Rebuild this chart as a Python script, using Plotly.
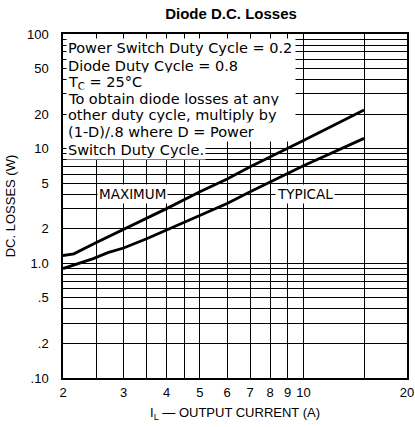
import math
import plotly.graph_objects as go

# ---- data ----
current_max = [2, 2.15, 2.5, 3, 3.5, 4, 5, 6, 7, 8, 9, 10, 15]
loss_max = [1.17, 1.21, 1.52, 1.97, 2.45, 3.0, 4.2, 5.45, 6.95, 8.45, 10.1, 11.8, 21.7]

current_typ = [2, 2.45, 2.7, 3, 3.5, 4, 5, 6, 7, 8, 9, 10, 15]
loss_typ = [0.9, 1.1, 1.24, 1.36, 1.64, 1.95, 2.6, 3.32, 4.2, 5.1, 6.1, 7.1, 12.3]

x_tickvals = [2, 3, 4, 5, 6, 7, 8, 9, 10, 20]
x_ticktext = ["2", "3", "4", "5", "6", "7", "8", "9", "10", "20"]
x_minor = [2.5, 3.5, 4.5, 15]

y_tickvals = [0.1, 0.2, 0.5, 1, 2, 5, 10, 20, 50, 100]
y_ticktext = [".10", ".2", ".5", "1.0", "2", "5", "10", "20", "50", "100"]
y_minor = [0.3, 0.4, 0.6, 0.7, 0.8, 0.9, 3, 4, 6, 7, 8, 9, 30, 40, 60, 70, 80, 90]

note_lines = [
    "Power Switch Duty Cycle = 0.2",
    "Diode Duty Cycle = 0.8",
    "T<sub>C</sub> = 25°C",
    "To obtain diode losses at any",
    "other duty cycle, multiply by",
    "(1-D)/.8 where D = Power",
    "Switch Duty Cycle.",
]

W, H = 415, 427
L, R, T, B = 63, 8, 34, 49
plot_h = H - T - B
plot_w = W - L - R

fig = go.Figure()
fig.add_trace(go.Scatter(x=current_max, y=loss_max, mode="lines",
                         line=dict(color="black", width=2.8), name="MAXIMUM",
                         showlegend=False))
fig.add_trace(go.Scatter(x=current_typ, y=loss_typ, mode="lines",
                         line=dict(color="black", width=2.8), name="TYPICAL",
                         showlegend=False))

tick_font = dict(family="Liberation Sans, Arial, sans-serif", size=13, color="black")

fig.update_xaxes(
    type="log", range=[math.log10(2), math.log10(20)],
    tickmode="array", tickvals=x_tickvals, ticktext=x_ticktext,
    showgrid=True, gridcolor="black", gridwidth=1,
    minor=dict(tickmode="array", tickvals=x_minor, showgrid=True,
               gridcolor="black", gridwidth=1),
    showline=True, mirror=True, linecolor="black", linewidth=1.5,
    ticks="", tickfont=tick_font, ticklabelstandoff=2,
    zeroline=False, automargin=False,
    title=dict(text="I<sub>L</sub> — OUTPUT CURRENT (A)",
               font=dict(family="Liberation Sans, Arial, sans-serif", size=13, color="black"),
               standoff=9),
)
fig.update_yaxes(
    type="log", range=[-1, 2],
    tickmode="array", tickvals=y_tickvals, ticktext=y_ticktext,
    showgrid=True, gridcolor="black", gridwidth=1,
    minor=dict(tickmode="array", tickvals=y_minor, showgrid=True,
               gridcolor="black", gridwidth=1),
    showline=True, mirror=True, linecolor="black", linewidth=1.5,
    ticks="", tickfont=tick_font, ticklabelstandoff=10,
    zeroline=False, automargin=False,
    title=dict(text="DC. LOSSES (W)",
               font=dict(family="Liberation Sans, Arial, sans-serif", size=13, color="black"),
               standoff=8),
)

# note block: one white-backed annotation per line
line_centers_px = [48, 66, 83, 99, 115, 132, 150]
note_font = dict(family="DejaVu Sans, sans-serif", size=14.5, color="black")
for i, (txt, ypx) in enumerate(zip(note_lines, line_centers_px)):
    kw = {}
    if i < 6:
        kw["width"] = 226
    fig.add_annotation(
        text=txt, xref="paper", yref="paper",
        x=(66 - L) / plot_w, y=(H - B - ypx) / plot_h,
        xanchor="left", yanchor="middle", align="left",
        showarrow=False, font=note_font, bgcolor="white", borderpad=1, **kw)

label_font = dict(family="DejaVu Sans, sans-serif", size=13.5, color="black")
fig.add_annotation(text="MAXIMUM", x=math.log10(3.18), y=math.log10(4.0),
                   xref="x", yref="y", showarrow=False, font=label_font,
                   bgcolor="white", borderpad=1)
fig.add_annotation(text="TYPICAL", x=math.log10(10.1), y=math.log10(4.0),
                   xref="x", yref="y", showarrow=False, font=label_font,
                   bgcolor="white", borderpad=1)

fig.update_layout(
    width=W, height=H,
    margin=dict(l=L, r=R, t=T, b=B, autoexpand=False),
    paper_bgcolor="white", plot_bgcolor="white",
    title=dict(text="<b>Diode D.C. Losses</b>", x=231 / W, xanchor="center",
               y=1 - 14 / H, yanchor="middle",
               font=dict(family="Liberation Sans, Arial, sans-serif", size=15, color="black")),
    showlegend=False,
)

fig.write_html(
    "out.html",
    config={"displayModeBar": False},
    post_script="document.body.style.margin='0';document.body.style.overflow='hidden';",
)
